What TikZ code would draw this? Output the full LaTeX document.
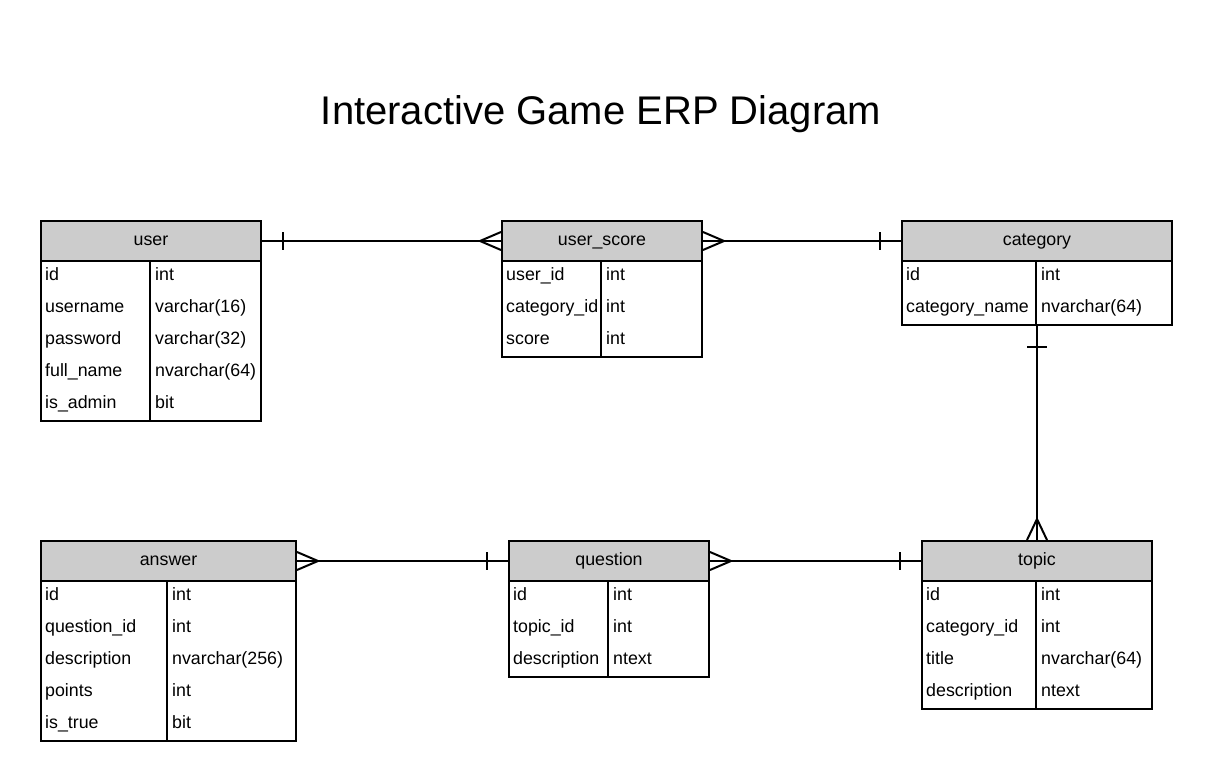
\documentclass[tikz,border=0pt]{standalone}
\usepackage{fontspec}
\setmainfont{Liberation Sans}
\usetikzlibrary{calc}
\definecolor{hdrgray}{HTML}{CCCCCC}
\tikzset{
  hdr/.style={draw=black, line width=2pt, fill=hdrgray, inner sep=0pt, anchor=north west,
    font=\fontsize{17.8}{20}\selectfont, text height=12pt, text depth=4pt},
  tbody/.style={draw=black, line width=2pt, fill=white, inner sep=0pt, anchor=north west},
  cell/.style={inner sep=0pt, anchor=base west, font=\fontsize{17.8}{20}\selectfont},
  colsep/.style={line width=2pt},
  conn/.style={line width=2pt},
  ermark/.style={line width=2pt},
}
\begin{document}
\begin{tikzpicture}[x=1pt,y=-1pt]
\useasboundingbox (0,0) rectangle (1211,780);
\node[anchor=base, font=\fontsize{40}{48}\selectfont] (title) at (601,124) {Interactive Game ERP Diagram};

% user
\node[tbody, minimum width=220pt, minimum height=160pt] (userB) at (40,260) {};
\node[hdr, minimum width=220pt, minimum height=40pt] (user) at (40,220) {user};
\draw[colsep] (150,260) -- (150,420);
\node[cell] (u1a) at (45,280.5) {id};          \node[cell] (u1b) at (155,280.5) {int};
\node[cell] (u2a) at (45,312.5) {username};    \node[cell] (u2b) at (155,312.5) {varchar(16)};
\node[cell] (u3a) at (45,344.5) {password};    \node[cell] (u3b) at (155,344.5) {varchar(32)};
\node[cell] (u4a) at (45,376.5) {full\_name};  \node[cell] (u4b) at (155,376.5) {nvarchar(64)};
\node[cell] (u5a) at (45,408.5) {is\_admin};   \node[cell] (u5b) at (155,408.5) {bit};

% user_score
\node[tbody, minimum width=200pt, minimum height=96pt] (usB) at (501,260) {};
\node[hdr, minimum width=200pt, minimum height=40pt] (us) at (501,220) {user\_score};
\draw[colsep] (601,260) -- (601,356);
\node[cell] (s1a) at (506,280.5) {user\_id};     \node[cell] (s1b) at (606,280.5) {int};
\node[cell] (s2a) at (506,312.5) {category\_id}; \node[cell] (s2b) at (606,312.5) {int};
\node[cell] (s3a) at (506,344.5) {score};        \node[cell] (s3b) at (606,344.5) {int};

% category
\node[tbody, minimum width=270pt, minimum height=64pt] (catB) at (901,260) {};
\node[hdr, minimum width=270pt, minimum height=40pt] (cat) at (901,220) {category};
\draw[colsep] (1036,260) -- (1036,324);
\node[cell] (c1a) at (906,280.5) {id};             \node[cell] (c1b) at (1041,280.5) {int};
\node[cell] (c2a) at (906,312.5) {category\_name}; \node[cell] (c2b) at (1041,312.5) {nvarchar(64)};

% answer
\node[tbody, minimum width=255pt, minimum height=160pt] (ansB) at (40,580) {};
\node[hdr, minimum width=255pt, minimum height=40pt] (ans) at (40,540) {answer};
\draw[colsep] (167,580) -- (167,740);
\node[cell] (a1a) at (45,600.5) {id};           \node[cell] (a1b) at (172,600.5) {int};
\node[cell] (a2a) at (45,632.5) {question\_id}; \node[cell] (a2b) at (172,632.5) {int};
\node[cell] (a3a) at (45,664.5) {description};  \node[cell] (a3b) at (172,664.5) {nvarchar(256)};
\node[cell] (a4a) at (45,696.5) {points};       \node[cell] (a4b) at (172,696.5) {int};
\node[cell] (a5a) at (45,728.5) {is\_true};     \node[cell] (a5b) at (172,728.5) {bit};

% question
\node[tbody, minimum width=200pt, minimum height=96pt] (qB) at (508,580) {};
\node[hdr, minimum width=200pt, minimum height=40pt] (q) at (508,540) {question};
\draw[colsep] (608,580) -- (608,676);
\node[cell] (q1a) at (513,600.5) {id};          \node[cell] (q1b) at (613,600.5) {int};
\node[cell] (q2a) at (513,632.5) {topic\_id};   \node[cell] (q2b) at (613,632.5) {int};
\node[cell] (q3a) at (513,664.5) {description}; \node[cell] (q3b) at (613,664.5) {ntext};

% topic
\node[tbody, minimum width=230pt, minimum height=128pt] (topB) at (921,580) {};
\node[hdr, minimum width=230pt, minimum height=40pt] (top) at (921,540) {topic};
\draw[colsep] (1036,580) -- (1036,708);
\node[cell] (t1a) at (926,600.5) {id};           \node[cell] (t1b) at (1041,600.5) {int};
\node[cell] (t2a) at (926,632.5) {category\_id}; \node[cell] (t2b) at (1041,632.5) {int};
\node[cell] (t3a) at (926,664.5) {title};        \node[cell] (t3b) at (1041,664.5) {nvarchar(64)};
\node[cell] (t4a) at (926,696.5) {description};  \node[cell] (t4b) at (1041,696.5) {ntext};

% connectors
\draw[conn] (user.east) -- (us.west);
\draw[ermark] ($(user.east)+(21,-9)$) -- ($(user.east)+(21,9)$);
\draw[ermark] ($(us.west)+(0,-9)$) -- ($(us.west)+(-21,0)$) -- ($(us.west)+(0,9)$);

\draw[conn] (us.east) -- (cat.west);
\draw[ermark] ($(us.east)+(0,-9)$) -- ($(us.east)+(21,0)$) -- ($(us.east)+(0,9)$);
\draw[ermark] ($(cat.west)+(-21,-9)$) -- ($(cat.west)+(-21,9)$);

\draw[conn] (catB.south) -- (top.north);
\draw[ermark] ($(catB.south)+(-10,21)$) -- ($(catB.south)+(10,21)$);
\draw[ermark] ($(top.north)+(-10,0)$) -- ($(top.north)+(0,-21)$) -- ($(top.north)+(10,0)$);

\draw[conn] (ans.east) -- (q.west);
\draw[ermark] ($(ans.east)+(0,-9)$) -- ($(ans.east)+(21,0)$) -- ($(ans.east)+(0,9)$);
\draw[ermark] ($(q.west)+(-21,-9)$) -- ($(q.west)+(-21,9)$);

\draw[conn] (q.east) -- (top.west);
\draw[ermark] ($(q.east)+(0,-9)$) -- ($(q.east)+(21,0)$) -- ($(q.east)+(0,9)$);
\draw[ermark] ($(top.west)+(-21,-9)$) -- ($(top.west)+(-21,9)$);
\end{tikzpicture}
\end{document}
